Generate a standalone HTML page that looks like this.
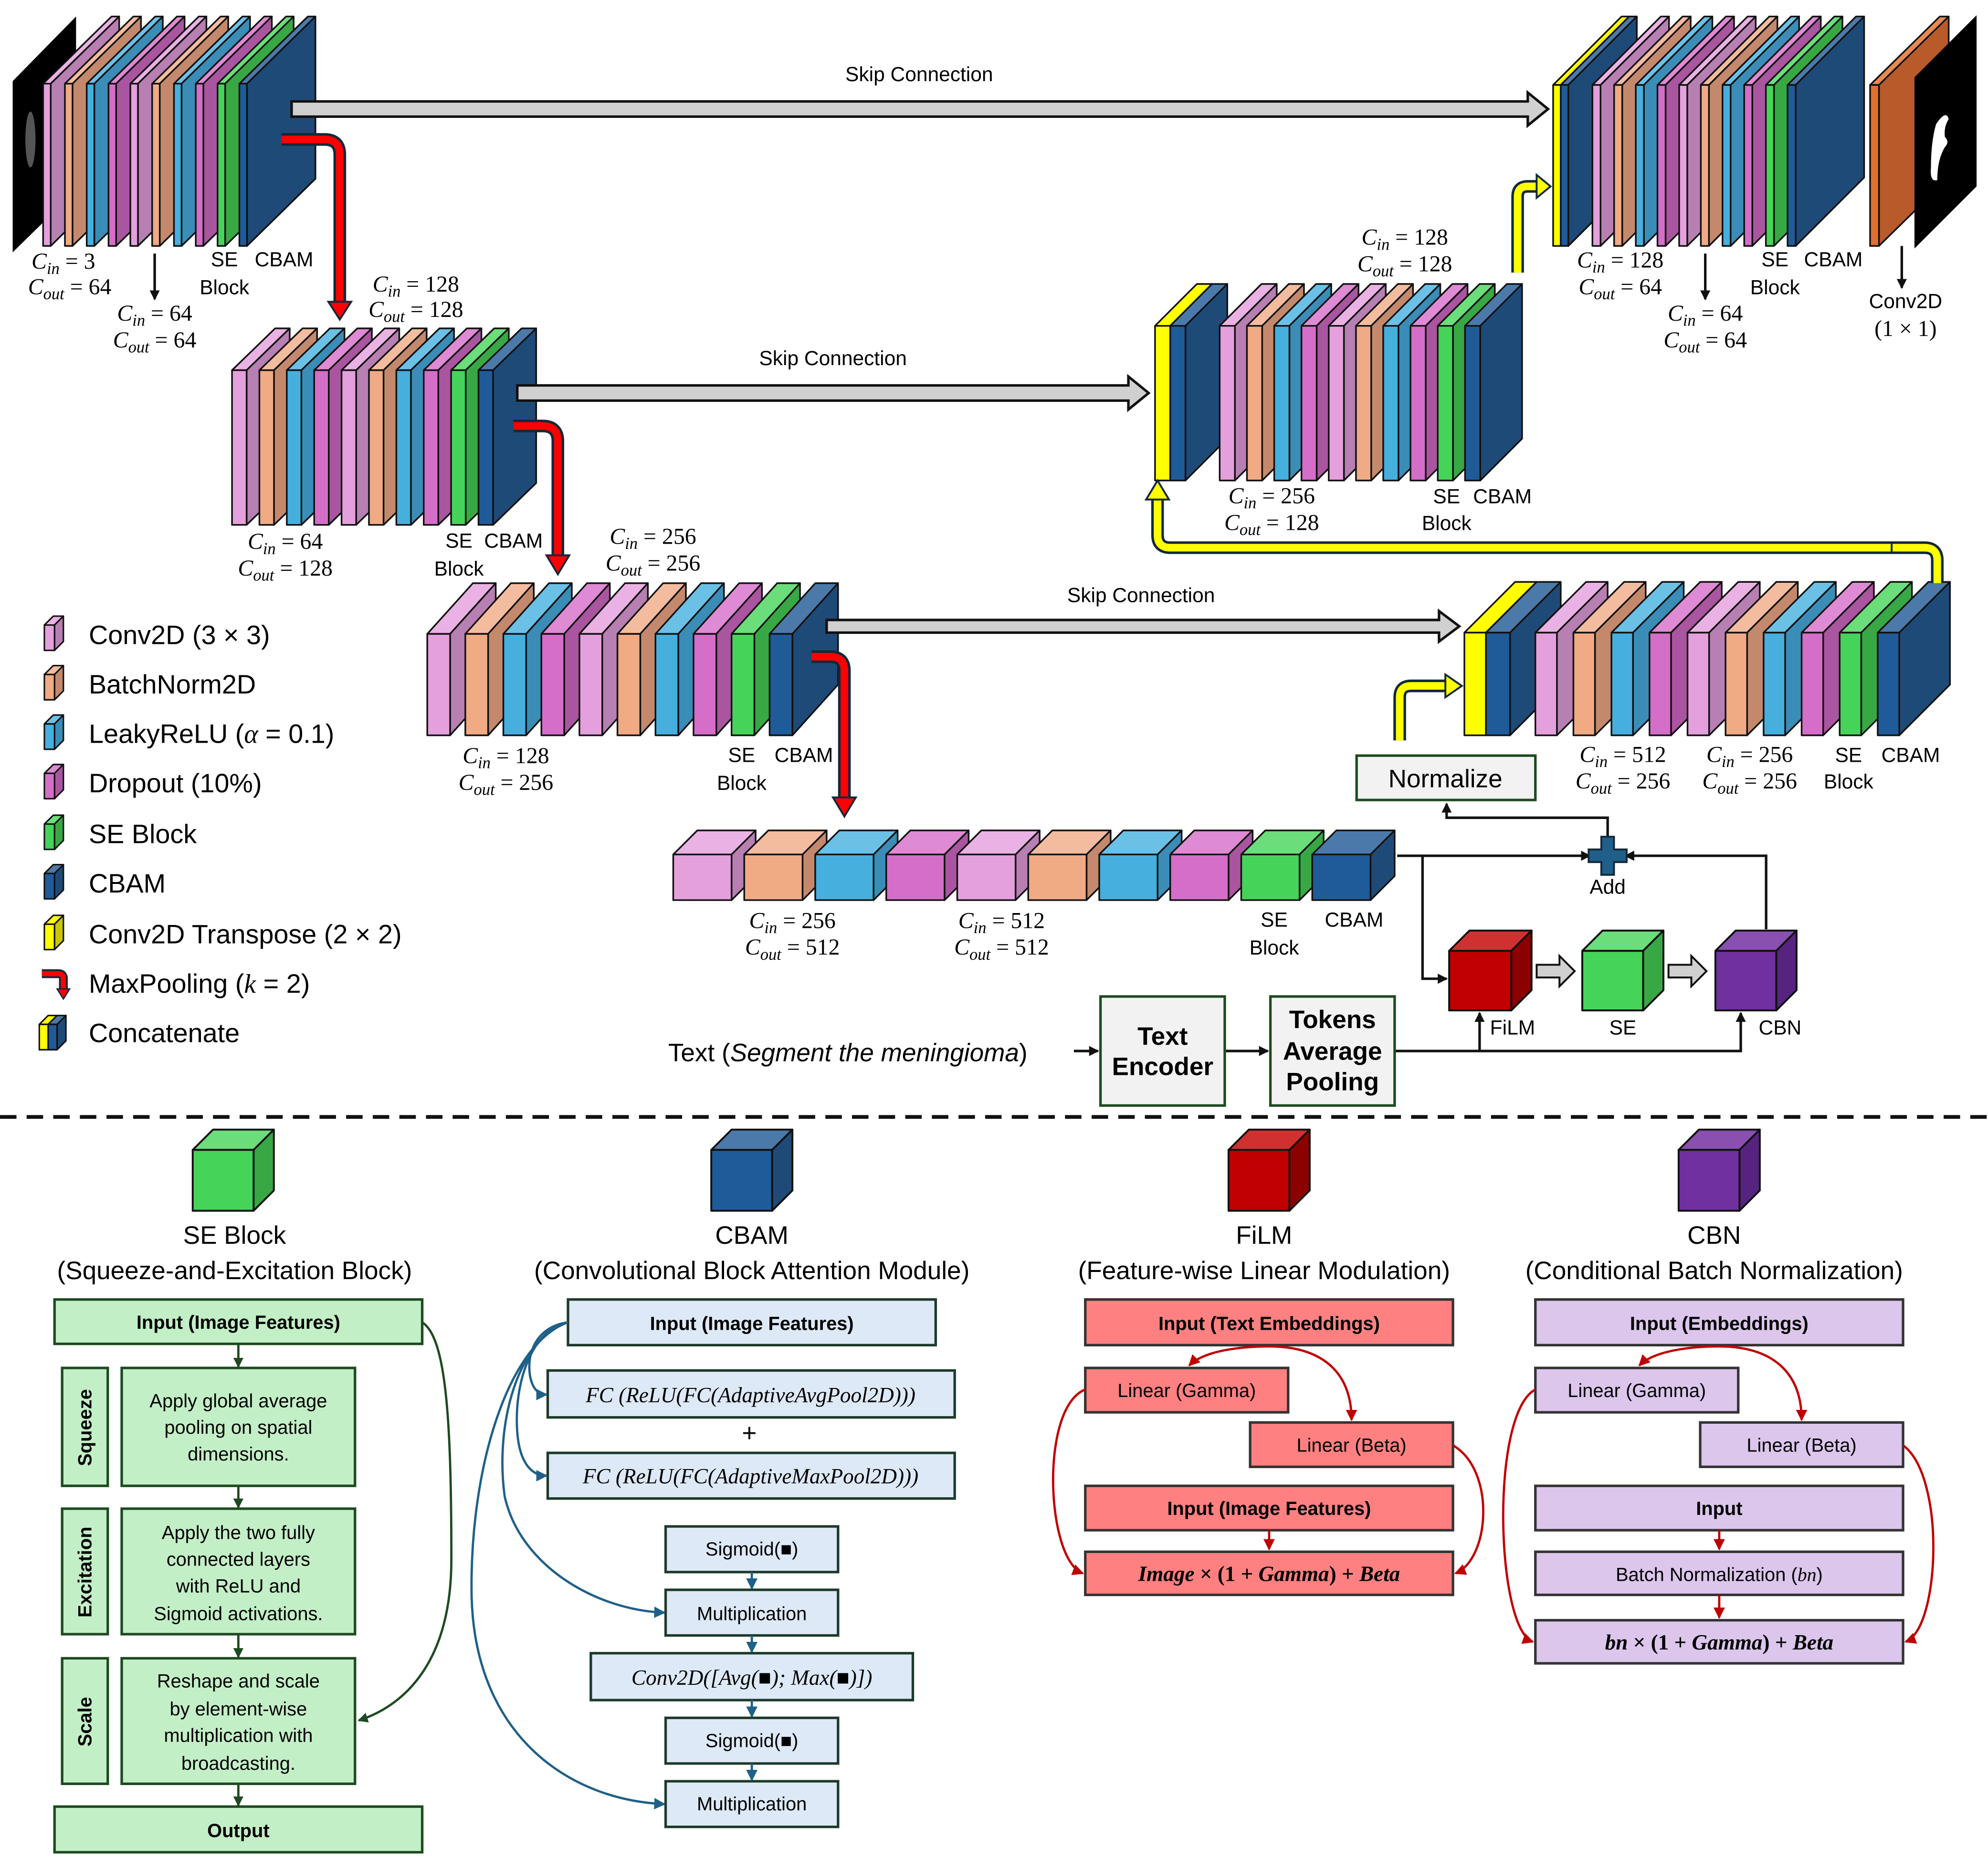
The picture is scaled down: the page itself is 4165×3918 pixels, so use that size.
<!DOCTYPE html>
<html><head><meta charset="utf-8"><style>
html,body{margin:0;padding:0;background:#fff}
svg{display:block}
.sa{font-family:"Liberation Sans",sans-serif}
.m{font-family:"Liberation Serif",serif;font-size:18px}
.m .i{font-style:italic}
.sl{font-family:"Liberation Sans",sans-serif;font-size:16px}
.lg{font-family:"Liberation Sans",sans-serif;font-size:20px}
.lgd{font-family:"Liberation Sans",sans-serif;font-size:21px}
.bx{font-family:"Liberation Sans",sans-serif;font-size:15px}
.bb{font-family:"Liberation Sans",sans-serif;font-size:15px;font-weight:bold}
</style></head><body>
<svg id="root" width="4165" height="3918" viewBox="0 0 1568 1475" xmlns="http://www.w3.org/2000/svg">
<defs>
<marker id="ak" markerWidth="8" markerHeight="8" refX="7" refY="4" orient="auto" markerUnits="userSpaceOnUse"><path d="M0,0 L8,4 L0,8 z" fill="#111"/></marker>
<marker id="ag" markerWidth="8" markerHeight="8" refX="7" refY="4" orient="auto" markerUnits="userSpaceOnUse"><path d="M0,0 L8,4 L0,8 z" fill="#1d4a20"/></marker>
<marker id="ab" markerWidth="9" markerHeight="9" refX="8" refY="4.5" orient="auto" markerUnits="userSpaceOnUse"><path d="M0,0 L9,4.5 L0,9 z" fill="#1f6088"/></marker>
<marker id="ar" markerWidth="9" markerHeight="9" refX="8" refY="4.5" orient="auto" markerUnits="userSpaceOnUse"><path d="M0,0 L9,4.5 L0,9 z" fill="#c00000"/></marker>
</defs>
<polygon points="10,64 60,13 60,150 10,199" fill="#000"/>
<ellipse cx="24" cy="110" rx="4" ry="22" fill="#555"/>
<g id="s"></g>
<g id="s2"></g>
<polygon points="1510,61 1559,12 1559,147 1510,196" fill="#000"/>
<path d="M1527,98 q8,-12 10,-4 q-4,6 -3,14 q4,4 0,8 q-6,10 -6,26 q-6,2 -5,-10 q0,-20 4,-34z" fill="#fff"/>

<g stroke="#111" stroke-width="2" fill="#d0d0d0">
<polygon points="230,80 1205,80 1205,73 1221,86 1205,99 1205,92 230,92"/>
<polygon points="408,304 890,304 890,297 906,310 890,323 890,316 408,316"/>
<polygon points="652,489 1135,489 1135,482 1151,494 1135,506 1135,499 652,499"/>
</g>
<text class="sl" x="725" y="64" text-anchor="middle">Skip Connection</text>
<text class="sl" x="657" y="288" text-anchor="middle">Skip Connection</text>
<text class="sl" x="900" y="475" text-anchor="middle">Skip Connection</text>

<g fill="none" stroke-linejoin="round">
<path d="M222,110 H256 Q268,110 268,122 V240" stroke="#14283a" stroke-width="10"/>
<path d="M222,110 H256 Q268,110 268,122 V240" stroke="#ff0000" stroke-width="6"/>
<path d="M405,336 H428 Q440,336 440,348 V440" stroke="#14283a" stroke-width="10"/>
<path d="M405,336 H428 Q440,336 440,348 V440" stroke="#ff0000" stroke-width="6"/>
<path d="M640,518 H655 Q666,518 666,529 V630" stroke="#14283a" stroke-width="10"/>
<path d="M640,518 H655 Q666,518 666,529 V630" stroke="#ff0000" stroke-width="6"/>
</g>
<g fill="#ff0000" stroke="#14283a" stroke-width="1.5">
<polygon points="259,238 277,238 268,252"/>
<polygon points="431,438 449,438 440,453"/>
<polygon points="657,629 675,629 666,644"/>
</g>

<g fill="none" stroke-linejoin="round">
<path d="M1104,584 V550 Q1104,541 1113,541 H1142" stroke="#14283a" stroke-width="10"/>
<path d="M1104,584 V550 Q1104,541 1113,541 H1142" stroke="#ffff00" stroke-width="6"/>
<path d="M1528,460 V442 Q1528,432 1518,432 H923 Q913,432 913,422 V392" stroke="#14283a" stroke-width="10"/>
<path d="M1528,460 V442 Q1528,432 1518,432 H923 Q913,432 913,422 V392" stroke="#ffff00" stroke-width="6"/>
<path d="M1197,215 V155 Q1197,147 1205,147 H1214" stroke="#14283a" stroke-width="10"/>
<path d="M1197,215 V155 Q1197,147 1205,147 H1214" stroke="#ffff00" stroke-width="6"/>
<line x1="1492" y1="428" x2="1492" y2="436" stroke="#14283a" stroke-width="1.5"/>
</g>
<g fill="#ffff00" stroke="#14283a" stroke-width="1.5">
<polygon points="1140,532 1140,550 1153,541"/>
<polygon points="904,394 922,394 913,379"/>
<polygon points="1212,138 1212,156 1223,147"/>
</g>

<g stroke="#111" stroke-width="2">
<line x1="122" y1="200" x2="122" y2="236" marker-end="url(#ak)"/>
<line x1="1345" y1="200" x2="1345" y2="236" marker-end="url(#ak)"/>
<line x1="1500" y1="194" x2="1500" y2="227" marker-end="url(#ak)"/>
</g>

<g class="m" text-anchor="middle">
<text x="50" y="212"><tspan class="i">C</tspan><tspan class="i" font-size="13" dy="4">in</tspan><tspan dy="-4"> = 3</tspan></text>
<text x="55" y="232"><tspan class="i">C</tspan><tspan class="i" font-size="13" dy="4">out</tspan><tspan dy="-4"> = 64</tspan></text>
<text x="122" y="253"><tspan class="i">C</tspan><tspan class="i" font-size="13" dy="4">in</tspan><tspan dy="-4"> = 64</tspan></text>
<text x="122" y="274"><tspan class="i">C</tspan><tspan class="i" font-size="13" dy="4">out</tspan><tspan dy="-4"> = 64</tspan></text>
<text x="328" y="230"><tspan class="i">C</tspan><tspan class="i" font-size="13" dy="4">in</tspan><tspan dy="-4"> = 128</tspan></text>
<text x="328" y="250"><tspan class="i">C</tspan><tspan class="i" font-size="13" dy="4">out</tspan><tspan dy="-4"> = 128</tspan></text>
<text x="225" y="433"><tspan class="i">C</tspan><tspan class="i" font-size="13" dy="4">in</tspan><tspan dy="-4"> = 64</tspan></text>
<text x="225" y="454"><tspan class="i">C</tspan><tspan class="i" font-size="13" dy="4">out</tspan><tspan dy="-4"> = 128</tspan></text>
<text x="515" y="429"><tspan class="i">C</tspan><tspan class="i" font-size="13" dy="4">in</tspan><tspan dy="-4"> = 256</tspan></text>
<text x="515" y="450"><tspan class="i">C</tspan><tspan class="i" font-size="13" dy="4">out</tspan><tspan dy="-4"> = 256</tspan></text>
<text x="399" y="602"><tspan class="i">C</tspan><tspan class="i" font-size="13" dy="4">in</tspan><tspan dy="-4"> = 128</tspan></text>
<text x="399" y="623"><tspan class="i">C</tspan><tspan class="i" font-size="13" dy="4">out</tspan><tspan dy="-4"> = 256</tspan></text>
<text x="625" y="732"><tspan class="i">C</tspan><tspan class="i" font-size="13" dy="4">in</tspan><tspan dy="-4"> = 256</tspan></text>
<text x="625" y="753"><tspan class="i">C</tspan><tspan class="i" font-size="13" dy="4">out</tspan><tspan dy="-4"> = 512</tspan></text>
<text x="790" y="732"><tspan class="i">C</tspan><tspan class="i" font-size="13" dy="4">in</tspan><tspan dy="-4"> = 512</tspan></text>
<text x="790" y="753"><tspan class="i">C</tspan><tspan class="i" font-size="13" dy="4">out</tspan><tspan dy="-4"> = 512</tspan></text>
<text x="1280" y="601"><tspan class="i">C</tspan><tspan class="i" font-size="13" dy="4">in</tspan><tspan dy="-4"> = 512</tspan></text>
<text x="1280" y="622"><tspan class="i">C</tspan><tspan class="i" font-size="13" dy="4">out</tspan><tspan dy="-4"> = 256</tspan></text>
<text x="1380" y="601"><tspan class="i">C</tspan><tspan class="i" font-size="13" dy="4">in</tspan><tspan dy="-4"> = 256</tspan></text>
<text x="1380" y="622"><tspan class="i">C</tspan><tspan class="i" font-size="13" dy="4">out</tspan><tspan dy="-4"> = 256</tspan></text>
<text x="1108" y="193"><tspan class="i">C</tspan><tspan class="i" font-size="13" dy="4">in</tspan><tspan dy="-4"> = 128</tspan></text>
<text x="1108" y="214"><tspan class="i">C</tspan><tspan class="i" font-size="13" dy="4">out</tspan><tspan dy="-4"> = 128</tspan></text>
<text x="1003" y="397"><tspan class="i">C</tspan><tspan class="i" font-size="13" dy="4">in</tspan><tspan dy="-4"> = 256</tspan></text>
<text x="1003" y="418"><tspan class="i">C</tspan><tspan class="i" font-size="13" dy="4">out</tspan><tspan dy="-4"> = 128</tspan></text>
<text x="1278" y="211"><tspan class="i">C</tspan><tspan class="i" font-size="13" dy="4">in</tspan><tspan dy="-4"> = 128</tspan></text>
<text x="1278" y="232"><tspan class="i">C</tspan><tspan class="i" font-size="13" dy="4">out</tspan><tspan dy="-4"> = 64</tspan></text>
<text x="1345" y="253"><tspan class="i">C</tspan><tspan class="i" font-size="13" dy="4">in</tspan><tspan dy="-4"> = 64</tspan></text>
<text x="1345" y="274"><tspan class="i">C</tspan><tspan class="i" font-size="13" dy="4">out</tspan><tspan dy="-4"> = 64</tspan></text>
<text x="1503" y="265">(1 × 1)</text>
</g>
<g class="sl" text-anchor="middle">
<text x="177" y="210">SE</text><text x="177" y="232">Block</text><text x="224" y="210">CBAM</text>
<text x="362" y="432">SE</text><text x="362" y="454">Block</text><text x="405" y="432">CBAM</text>
<text x="585" y="601">SE</text><text x="585" y="623">Block</text><text x="634" y="601">CBAM</text>
<text x="1005" y="731">SE</text><text x="1005" y="753">Block</text><text x="1068" y="731">CBAM</text>
<text x="1458" y="601">SE</text><text x="1458" y="622">Block</text><text x="1507" y="601">CBAM</text>
<text x="1141" y="397">SE</text><text x="1141" y="418">Block</text><text x="1185" y="397">CBAM</text>
<text x="1400" y="210">SE</text><text x="1400" y="232">Block</text><text x="1446" y="210">CBAM</text>
<text x="1503" y="243">Conv2D</text>
</g>

<g id="lgicons"></g>
<g class="lgd">
<text x="70" y="508">Conv2D (3 × 3)</text>
<text x="70" y="547">BatchNorm2D</text>
<text x="70" y="586">LeakyReLU (<tspan font-family="Liberation Serif" font-style="italic">α</tspan> = 0.1)</text>
<text x="70" y="625">Dropout (10%)</text>
<text x="70" y="665">SE Block</text>
<text x="70" y="704">CBAM</text>
<text x="70" y="744">Conv2D Transpose (2 × 2)</text>
<text x="70" y="783">MaxPooling (<tspan font-family="Liberation Serif" font-style="italic">k</tspan> = 2)</text>
<text x="70" y="822">Concatenate</text>
</g>
<g fill="none" stroke-linejoin="round">
<path d="M33,768 H46 Q50,768 50,772 V782" stroke="#14283a" stroke-width="7"/>
<path d="M33,768 H46 Q50,768 50,772 V782" stroke="#ff0000" stroke-width="4"/>
</g>
<polygon points="45,780 55,780 50,788" fill="#ff0000" stroke="#14283a"/>

<g stroke="#111" stroke-width="2" fill="none">
<polyline points="1102,675 1122,675 1122,772 1141,772" marker-end="url(#ak)"/>
<line x1="1122" y1="675" x2="1254" y2="675" marker-end="url(#ak)"/>
<polyline points="1393,733 1393,675 1282,675" marker-end="url(#ak)"/>
<polyline points="1268,662 1268,645 1141,645 1141,634" marker-end="url(#ak)"/>
<line x1="847" y1="829" x2="866" y2="829" marker-end="url(#ak)"/>
<line x1="967" y1="829" x2="1000" y2="829" marker-end="url(#ak)"/>
<polyline points="1100,829 1373,829 1373,799" marker-end="url(#ak)"/>
<polyline points="1167,829 1167,799" marker-end="url(#ak)"/>
</g>
<path d="M1263,660 h10 v10 h10 v10 h-10 v10 h-10 v-10 h-10 v-10 h10z" fill="#1f5f8a" stroke="#14283a" stroke-width="1.5"/>
<text class="sl" x="1268" y="705" text-anchor="middle">Add</text>
<g stroke="#111" stroke-width="1.5" fill="#d0d0d0">
<polygon points="1212,761 1230,761 1230,754 1242,766 1230,778 1230,771 1212,771"/>
<polygon points="1316,761 1334,761 1334,754 1346,766 1334,778 1334,771 1316,771"/>
</g>
<text class="sl" x="1193" y="816" text-anchor="middle">FiLM</text>
<text class="sl" x="1280" y="816" text-anchor="middle">SE</text>
<text class="sl" x="1404" y="816" text-anchor="middle">CBN</text>
<rect x="1070" y="596" width="141" height="35" fill="#f2f2f2" stroke="#1d4a20" stroke-width="2"/>
<text class="lg" x="1140" y="621" text-anchor="middle" font-size="18">Normalize</text>
<text class="lg" x="527" y="837">Text (<tspan font-style="italic">Segment the meningioma</tspan>)</text>
<rect x="868" y="786" width="98" height="86" fill="#f2f2f2" stroke="#1d4a20" stroke-width="2"/>
<text class="lg" font-size="18" font-weight="bold" text-anchor="middle"><tspan x="917" y="824">Text</tspan><tspan x="917" y="848">Encoder</tspan></text>
<rect x="1002" y="786" width="98" height="86" fill="#f2f2f2" stroke="#1d4a20" stroke-width="2"/>
<text class="lg" font-size="18" font-weight="bold" text-anchor="middle"><tspan x="1051" y="811">Tokens</tspan><tspan x="1051" y="836">Average</tspan><tspan x="1051" y="860">Pooling</tspan></text>

<line x1="0" y1="881" x2="1568" y2="881" stroke="#111" stroke-width="3" stroke-dasharray="13,8"/>

<g class="lg" text-anchor="middle">
<text x="185" y="981">SE Block</text><text x="185" y="1009">(Squeeze-and-Excitation Block)</text>
<text x="593" y="981">CBAM</text><text x="593" y="1009">(Convolutional Block Attention Module)</text>
<text x="997" y="981">FiLM</text><text x="997" y="1009">(Feature-wise Linear Modulation)</text>
<text x="1352" y="981">CBN</text><text x="1352" y="1009">(Conditional Batch Normalization)</text>
</g>

<g fill="#C3EFC6" stroke="#1d4a20" stroke-width="2">
<rect x="43" y="1025" width="290" height="35"/>
<rect x="49" y="1079" width="36" height="93"/><rect x="96" y="1079" width="184" height="93"/>
<rect x="49" y="1190" width="36" height="99"/><rect x="96" y="1190" width="184" height="99"/>
<rect x="49" y="1308" width="36" height="99"/><rect x="96" y="1308" width="184" height="99"/>
<rect x="43" y="1425" width="290" height="36"/>
</g>
<g stroke="#1d4a20" stroke-width="1.8" fill="none">
<line x1="188" y1="1060" x2="188" y2="1078" marker-end="url(#ag)"/>
<line x1="188" y1="1172" x2="188" y2="1189" marker-end="url(#ag)"/>
<line x1="188" y1="1289" x2="188" y2="1307" marker-end="url(#ag)"/>
<line x1="188" y1="1407" x2="188" y2="1424" marker-end="url(#ag)"/>
<path d="M333,1043 C352,1055 356,1120 356,1230 C356,1310 320,1345 283,1357" marker-end="url(#ag)"/>
</g>
<text class="bb" x="188" y="1048" text-anchor="middle">Input (Image Features)</text>
<text class="bb" x="188" y="1449" text-anchor="middle">Output</text>
<g class="bb" font-size="14" text-anchor="middle">
<text transform="translate(72,1126) rotate(-90)">Squeeze</text>
<text transform="translate(72,1240) rotate(-90)">Excitation</text>
<text transform="translate(72,1358) rotate(-90)">Scale</text>
</g>
<g class="bx" text-anchor="middle">
<text x="188" y="1110">Apply global average</text><text x="188" y="1131">pooling on spatial</text><text x="188" y="1152">dimensions.</text>
<text x="188" y="1214">Apply the two fully</text><text x="188" y="1235">connected layers</text><text x="188" y="1256">with ReLU and</text><text x="188" y="1278">Sigmoid activations.</text>
<text x="188" y="1331">Reshape and scale</text><text x="188" y="1353">by element-wise</text><text x="188" y="1374">multiplication with</text><text x="188" y="1396">broadcasting.</text>
</g>

<g fill="#DDE9F6" stroke="#1d3a2a" stroke-width="2">
<rect x="448" y="1025" width="290" height="36"/>
<rect x="432" y="1081" width="321" height="37"/>
<rect x="432" y="1146" width="321" height="36"/>
<rect x="525" y="1204" width="136" height="36"/>
<rect x="525" y="1254" width="136" height="36"/>
<rect x="466" y="1304" width="254" height="37"/>
<rect x="525" y="1355" width="136" height="36"/>
<rect x="525" y="1405" width="136" height="36"/>
</g>
<g stroke="#1f6088" stroke-width="1.8" fill="none">
<line x1="593" y1="1240" x2="593" y2="1253" marker-end="url(#ab)"/>
<line x1="593" y1="1290" x2="593" y2="1303" marker-end="url(#ab)"/>
<line x1="593" y1="1341" x2="593" y2="1354" marker-end="url(#ab)"/>
<line x1="593" y1="1391" x2="593" y2="1404" marker-end="url(#ab)"/>
<path d="M448,1043 C425,1046 415,1065 418,1085 C420,1096 425,1100 431,1100" marker-end="url(#ab)"/>
<path d="M448,1043 C420,1048 405,1090 408,1130 C410,1155 420,1164 431,1164" marker-end="url(#ab)"/>
<path d="M448,1043 C410,1055 390,1120 398,1180 C410,1235 470,1270 524,1272" marker-end="url(#ab)"/>
<path d="M448,1043 C400,1060 370,1160 372,1260 C375,1370 450,1420 524,1423" marker-end="url(#ab)"/>
</g>
<text class="bb" x="593" y="1049" text-anchor="middle">Input (Image Features)</text>
<g font-family="Liberation Serif" font-style="italic" font-size="17" text-anchor="middle">
<text x="592" y="1106">FC (ReLU(FC(AdaptiveAvgPool2D)))</text>
<text x="592" y="1170">FC (ReLU(FC(AdaptiveMaxPool2D)))</text>
<text x="593" y="1329">Conv2D([Avg(■); Max(■)])</text>
</g>
<text x="591" y="1137" font-family="Liberation Sans" font-size="20" text-anchor="middle">+</text>
<g class="bx" text-anchor="middle">
<text x="593" y="1227">Sigmoid(■)</text><text x="593" y="1278">Multiplication</text>
<text x="593" y="1378">Sigmoid(■)</text><text x="593" y="1428">Multiplication</text>
</g>

<g fill="#FF8080" stroke="#333" stroke-width="2">
<rect x="856" y="1025" width="290" height="36"/>
<rect x="856" y="1079" width="160" height="35"/>
<rect x="986" y="1122" width="160" height="35"/>
<rect x="856" y="1172" width="290" height="35"/>
<rect x="856" y="1224" width="290" height="34"/>
</g>
<g stroke="#c00000" stroke-width="1.8" fill="none">
<path d="M1001,1062 C980,1062 950,1065 938,1077" marker-end="url(#ar)"/>
<path d="M1001,1062 C1040,1062 1066,1080 1066,1120" marker-end="url(#ar)"/>
<path d="M856,1096 C820,1110 825,1230 854,1241" marker-end="url(#ar)"/>
<path d="M1146,1140 C1180,1160 1175,1230 1148,1241" marker-end="url(#ar)"/>
<line x1="1001" y1="1207" x2="1001" y2="1222" marker-end="url(#ar)"/>
</g>
<text class="bb" x="1001" y="1049" text-anchor="middle">Input (Text Embeddings)</text>
<text class="bx" x="936" y="1102" text-anchor="middle">Linear (Gamma)</text>
<text class="bx" x="1066" y="1145" text-anchor="middle">Linear (Beta)</text>
<text class="bb" x="1001" y="1195" text-anchor="middle">Input (Image Features)</text>
<text x="1001" y="1247" font-family="Liberation Serif" font-weight="bold" font-size="17" text-anchor="middle"><tspan font-style="italic">Image</tspan> × (1 + <tspan font-style="italic">Gamma</tspan>) + <tspan font-style="italic">Beta</tspan></text>

<g fill="#DCC6EC" stroke="#333" stroke-width="2">
<rect x="1211" y="1025" width="290" height="36"/>
<rect x="1211" y="1079" width="160" height="35"/>
<rect x="1341" y="1122" width="160" height="35"/>
<rect x="1211" y="1172" width="290" height="35"/>
<rect x="1211" y="1224" width="290" height="34"/>
<rect x="1211" y="1278" width="290" height="34"/>
</g>
<g stroke="#c00000" stroke-width="1.8" fill="none">
<path d="M1356,1062 C1335,1062 1305,1065 1293,1077" marker-end="url(#ar)"/>
<path d="M1356,1062 C1395,1062 1421,1080 1421,1120" marker-end="url(#ar)"/>
<path d="M1211,1096 C1175,1115 1180,1285 1209,1295" marker-end="url(#ar)"/>
<path d="M1501,1140 C1535,1165 1530,1285 1503,1295" marker-end="url(#ar)"/>
<line x1="1356" y1="1207" x2="1356" y2="1222" marker-end="url(#ar)"/>
<line x1="1356" y1="1258" x2="1356" y2="1276" marker-end="url(#ar)"/>
</g>
<text class="bb" x="1356" y="1049" text-anchor="middle">Input (Embeddings)</text>
<text class="bx" x="1291" y="1102" text-anchor="middle">Linear (Gamma)</text>
<text class="bx" x="1421" y="1145" text-anchor="middle">Linear (Beta)</text>
<text class="bb" x="1356" y="1195" text-anchor="middle">Input</text>
<text class="bx" x="1356" y="1247" text-anchor="middle">Batch Normalization (<tspan font-family="Liberation Serif" font-style="italic">bn</tspan>)</text>
<text x="1356" y="1301" font-family="Liberation Serif" font-weight="bold" font-size="17" text-anchor="middle"><tspan font-style="italic">bn</tspan> × (1 + <tspan font-style="italic">Gamma</tspan>) + <tspan font-style="italic">Beta</tspan></text>

<g id="cubes"></g>
</svg>
<script>
(function(){
var NS="http://www.w3.org/2000/svg";
var C={P:['#E4A0DC','#B77FB2','#EAB2E4'],O:['#F0AA84','#C4896C','#F4BC9E'],B:['#46AFDE','#3A8DB7','#6BC0E6'],
M:['#D46EC8','#AA55A0','#DE8AD4'],G:['#46D35A','#38A844','#6BDD7A'],N:['#1F5B99','#1E4A78','#4B7AAA'],
Y:['#FFFF00','#C8C800','#FFFF00'],R:['#C00000','#8C0000','#D03030'],V:['#7030A0','#562480','#8A50B0'],
Or:['#E07030','#B85A2A','#E88A50']};
function poly(g,pts,fill,sw){var p=document.createElementNS(NS,'polygon');p.setAttribute('points',pts.map(function(a){return a.join(',')}).join(' '));
p.setAttribute('fill',fill);p.setAttribute('stroke','#111');p.setAttribute('stroke-width',sw||1.3);p.setAttribute('stroke-linejoin','round');g.appendChild(p);}
function slab(g,x,y,w,h,dx,dy,k,sw){var c=C[k];
poly(g,[[x,y],[x+dx,y-dy],[x+w+dx,y-dy],[x+w,y]],c[2],sw);
poly(g,[[x+w,y],[x+w+dx,y-dy],[x+w+dx,y+h-dy],[x+w,y+h]],c[1],sw);
poly(g,[[x,y],[x+w,y],[x+w,y+h],[x,y+h]],c[0],sw);}
var seq=['P','O','B','M','P','O','B','M','G','N'];
var g=document.getElementById('s');
function row(x0,p,w,y,h,dx,dy){for(var i=0;i<10;i++)slab(g,x0+i*p,y,w,h,dx,dy,seq[i]);}
row(34,17.2,6,66,128,54,53);
row(183,21.6,11.5,292,122,34,33);
row(337,30,18,500,80,36,40);
row(531,56,46,674,36,19,19);
slab(g,1155,499,17,81,40,40,'Y');slab(g,1172,499,19,81,40,40,'N');
row(1211,30,17,499,81,40,40);
slab(g,911,257,12,122,33,33,'Y');slab(g,923,257,12,122,33,33,'N');
row(962,21.5,12,257,122,33,33);
slab(g,1225,67,6,127,54,54,'Y');slab(g,1231,67,6,127,54,54,'N');
row(1256,17.1,6.4,67,127,54,54);
slab(document.getElementById('s2'),1475,67,7,127,55,54,'Or');
var lg=document.getElementById('lgicons');
var ys=[501,540,579,618,658,697,737];var ks=['P','O','B','M','G','N','Y'];
for(var i=0;i<7;i++)slab(lg,35,ys[i]-8,8,20,7,7,ks[i],1.2);
slab(lg,31,808,7,20,7,7,'Y',1.2);slab(lg,38,808,7,20,7,7,'N',1.2);
var cb=document.getElementById('cubes');
slab(cb,1143,750,49,47,16,16,'R',1.5);slab(cb,1248,750,48,47,16,16,'G',1.5);slab(cb,1353,750,48,47,16,16,'V',1.5);
slab(cb,152,907,48,48,16,16,'G',1.5);slab(cb,561,907,48,48,16,16,'N',1.5);
slab(cb,969,907,48,48,16,16,'R',1.5);slab(cb,1324,907,48,48,16,16,'V',1.5);
})();
</script>
</body></html>
